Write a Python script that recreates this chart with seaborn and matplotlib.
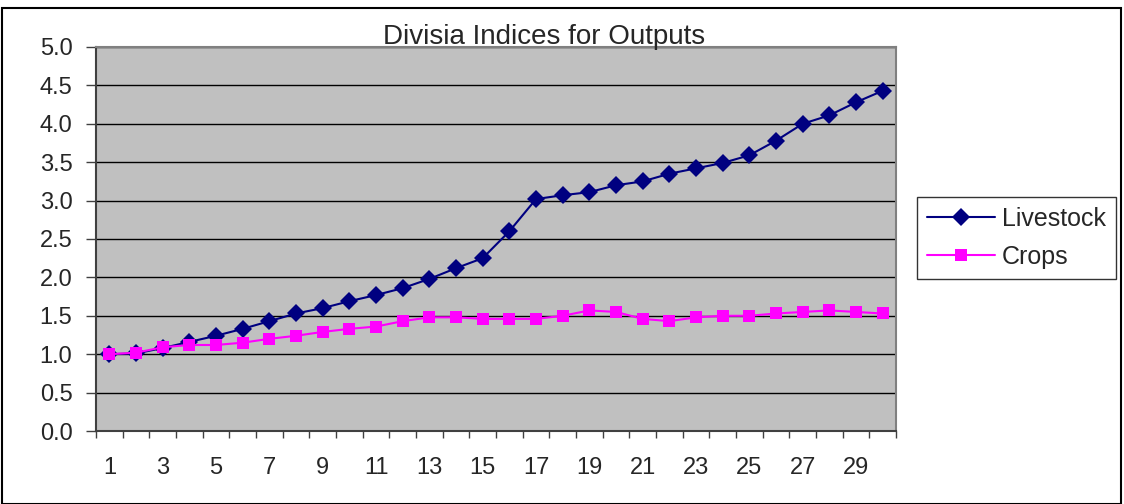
import numpy as np
import pandas as pd
import matplotlib
matplotlib.use('Agg')
import matplotlib.pyplot as plt
import seaborn as sns
from matplotlib.patches import Rectangle

years = list(range(1, 31))
livestock = [1.00, 1.01, 1.08, 1.16, 1.24, 1.33, 1.43, 1.53, 1.60, 1.69,
             1.77, 1.86, 1.98, 2.12, 2.25, 2.60, 3.02, 3.07, 3.11, 3.20,
             3.25, 3.35, 3.42, 3.49, 3.59, 3.78, 4.00, 4.11, 4.28, 4.43]
crops = [1.00, 1.02, 1.09, 1.12, 1.12, 1.15, 1.20, 1.24, 1.29, 1.33,
         1.36, 1.43, 1.48, 1.48, 1.46, 1.46, 1.46, 1.50, 1.57, 1.55,
         1.46, 1.43, 1.48, 1.50, 1.50, 1.53, 1.55, 1.57, 1.55, 1.53]

df = pd.DataFrame({'period': years + years,
                   'value': livestock + crops,
                   'series': ['Livestock'] * 30 + ['Crops'] * 30})

sns.set_style('white')
plt.rcParams['font.family'] = ['Liberation Sans', 'DejaVu Sans']

fig = plt.figure(figsize=(11.24, 5.04), dpi=100)
ax = fig.add_axes([96 / 1124, 1 - 431 / 504, 800 / 1124, 384 / 504])
ax.set_facecolor('#C0C0C0')

sns.lineplot(data=df, x='period', y='value', hue='series', style='series',
             palette={'Livestock': '#000080', 'Crops': '#FF00FF'},
             markers={'Livestock': 'D', 'Crops': 's'},
             dashes=False, markersize=9, linewidth=1.5,
             markeredgewidth=0, ax=ax)

ax.set_xlim(0.5, 30.5)
ax.set_ylim(0, 5)
yt = np.arange(0, 5.01, 0.5)
ax.set_yticks(yt)
ax.set_yticklabels([f'{v:.1f}' for v in yt], fontsize=17)
ax.set_xticks(years[::2])
ax.set_xticklabels([str(y) for y in years[::2]], fontsize=17)
ax.set_xticks(np.arange(0.5, 31, 1), minor=True)
ax.tick_params(axis='x', which='major', length=0, pad=19)
ax.tick_params(axis='x', which='minor', length=5, width=1, color='#404040',
               direction='out', bottom=True)
ax.tick_params(axis='y', length=7, width=1, color='#404040',
               direction='out', left=True, pad=10)
ax.grid(axis='y', color='black', linewidth=1)
ax.set_axisbelow(True)
ax.set_xlabel('')
ax.set_ylabel('')
for s in ax.spines.values():
    s.set_color('#808080')
    s.set_linewidth(1.5)
ax.spines['left'].set_color('#404040')
ax.spines['bottom'].set_color('#404040')

ax.text(0.56, 1 + 3 / 384, 'Divisia Indices for Outputs', transform=ax.transAxes,
        ha='center', va='baseline', fontsize=20)

leg = ax.legend(loc='upper left', bbox_to_anchor=(917 / 1124, 1 - 197 / 504),
                bbox_transform=fig.transFigure, fontsize=18, frameon=True,
                fancybox=False, edgecolor='black', handlelength=2.7,
                borderpad=0.4, labelspacing=0.55, handletextpad=0.3,
                borderaxespad=0)
leg.get_frame().set_linewidth(1)

fig.patches.append(Rectangle((2 / 1124, 0), 1119 / 1124, 1 - 8 / 504,
                             transform=fig.transFigure, fill=False,
                             edgecolor='black', linewidth=1.5))

fig.savefig('out.png', dpi=100)
